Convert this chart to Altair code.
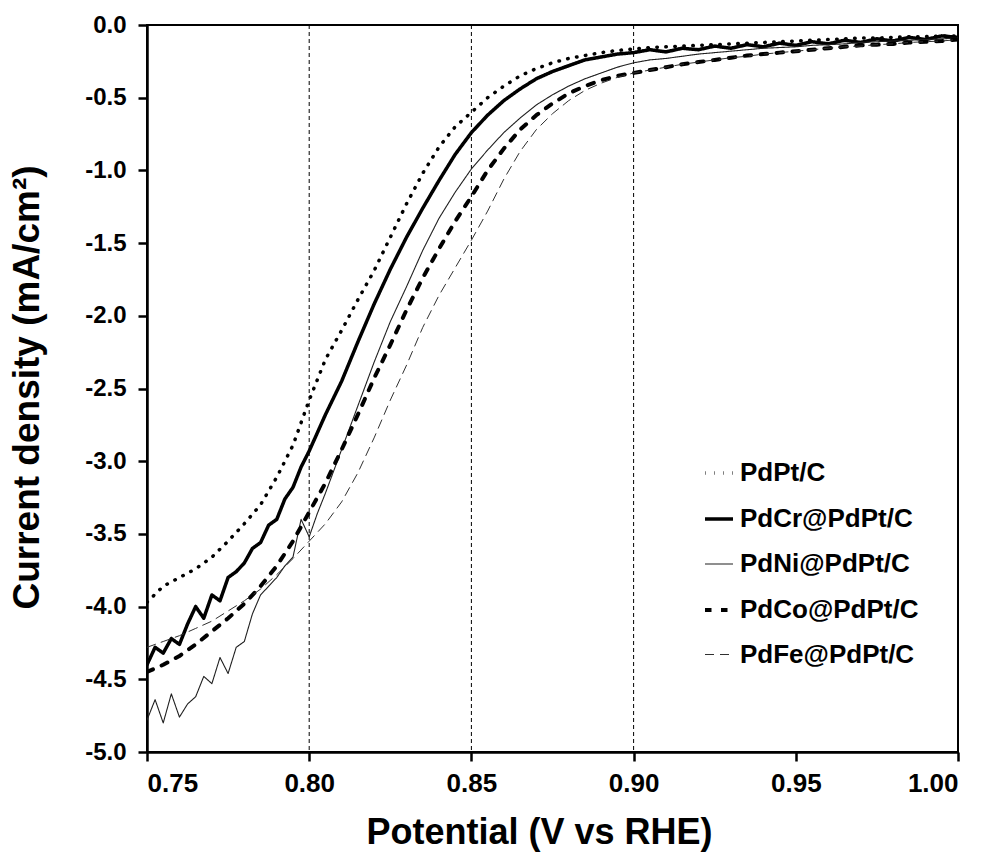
import altair as alt
import pandas as pd

# Linear sweep voltammetry (ORR polarization curves) for five catalysts
series_names = ["PdPt/C", "PdCr@PdPt/C", "PdNi@PdPt/C", "PdCo@PdPt/C", "PdFe@PdPt/C"]

# potential grid, V vs RHE (5 mV steps)
pot_grid = [0.750, 0.755, 0.760, 0.765, 0.770, 0.775, 0.780, 0.785, 0.790, 0.795,
            0.800, 0.805, 0.810, 0.815, 0.820, 0.825, 0.830, 0.835, 0.840, 0.845,
            0.850, 0.855, 0.860, 0.865, 0.870, 0.875, 0.880, 0.885, 0.890, 0.895,
            0.900, 0.905, 0.910, 0.915, 0.920, 0.925, 0.930, 0.935, 0.940, 0.945,
            0.950, 0.955, 0.960, 0.965, 0.970, 0.975, 0.980, 0.985, 0.990, 0.995, 1.000]

# noisier low-potential sections recorded at 2.5 mV steps
pdcr_low_pot = [0.7500, 0.7525, 0.7550, 0.7575, 0.7600, 0.7625, 0.7650, 0.7675, 0.7700, 0.7725,
                0.7750, 0.7775, 0.7800, 0.7825, 0.7850, 0.7875, 0.7900, 0.7925, 0.7950, 0.7975,
                0.8000]
pdni_low_pot = [0.7500, 0.7525, 0.7550, 0.7575, 0.7600, 0.7625, 0.7650, 0.7675, 0.7700, 0.7725,
                0.7750, 0.7775, 0.7800, 0.7825, 0.7850, 0.7875, 0.7900, 0.7925, 0.7950, 0.7975,
                0.8000, 0.8025, 0.8050]

# current density, mA/cm2
pdpt_j = [-3.97, -3.86, -3.80, -3.74, -3.66, -3.55, -3.43, -3.30, -3.11, -2.89,
          -2.58, -2.30, -2.10, -1.89, -1.69, -1.46, -1.23, -1.02, -0.84, -0.70,
          -0.60, -0.50, -0.42, -0.35, -0.30, -0.26, -0.23, -0.21, -0.19, -0.175,
          -0.165, -0.155, -0.15, -0.145, -0.14, -0.135, -0.13, -0.125, -0.12, -0.115,
          -0.11, -0.105, -0.10, -0.095, -0.09, -0.09, -0.085, -0.08, -0.08, -0.075, -0.075]

pdcr_j = [-4.40, -4.28, -4.32, -4.22, -4.26, -4.12, -4.00, -4.08, -3.92, -3.96,
          -3.80, -3.76, -3.70, -3.60, -3.56, -3.44, -3.40, -3.26, -3.18, -3.04,
          -2.93,
          -2.68, -2.45, -2.18, -1.92, -1.68, -1.46, -1.26, -1.07, -0.89, -0.74,
          -0.62, -0.52, -0.44, -0.37, -0.32, -0.28, -0.24, -0.22, -0.20, -0.19,
          -0.17, -0.185, -0.16, -0.17, -0.145, -0.16, -0.135, -0.15, -0.125, -0.14,
          -0.115, -0.13, -0.105, -0.12, -0.095, -0.11, -0.085, -0.10, -0.075, -0.085]

pdni_j = [-4.78, -4.64, -4.80, -4.60, -4.76, -4.67, -4.62, -4.48, -4.53, -4.35,
          -4.46, -4.28, -4.24, -4.05, -3.92, -3.86, -3.80, -3.72, -3.66, -3.40,
          -3.52, -3.36, -3.22,
          -2.92, -2.62, -2.32, -2.04, -1.80, -1.55, -1.33, -1.15, -0.99, -0.86,
          -0.74, -0.64, -0.55, -0.48, -0.42, -0.37, -0.33, -0.29, -0.26,
          -0.24, -0.23, -0.215, -0.20, -0.19, -0.18, -0.17, -0.16, -0.155, -0.15,
          -0.14, -0.135, -0.13, -0.12, -0.115, -0.11, -0.105, -0.10, -0.095, -0.09]

pdco_j = [-4.45, -4.40, -4.34, -4.26, -4.17, -4.08, -3.98, -3.86, -3.72, -3.55,
          -3.35, -3.15, -2.92, -2.68, -2.43, -2.20, -1.96, -1.74, -1.54, -1.35,
          -1.18, -1.00, -0.85, -0.72, -0.62, -0.54, -0.47, -0.42, -0.38, -0.35,
          -0.33, -0.31, -0.29, -0.27, -0.255, -0.24, -0.225, -0.21, -0.20, -0.19,
          -0.18, -0.17, -0.16, -0.15, -0.14, -0.135, -0.13, -0.12, -0.115, -0.11, -0.10]

pdfe_j = [-4.28, -4.24, -4.20, -4.15, -4.10, -4.03, -3.96, -3.88, -3.78, -3.67,
          -3.55, -3.43, -3.28, -3.08, -2.84, -2.58, -2.34, -2.08, -1.86, -1.67,
          -1.48, -1.28, -1.06, -0.87, -0.72, -0.61, -0.52, -0.45, -0.40, -0.36,
          -0.33, -0.31, -0.29, -0.27, -0.255, -0.24, -0.225, -0.215, -0.20, -0.19,
          -0.18, -0.17, -0.16, -0.15, -0.145, -0.135, -0.13, -0.12, -0.115, -0.11, -0.10]

# guide lines at selected potentials
guide_pots = [0.80, 0.85, 0.90]

x_ticks = [0.75, 0.80, 0.85, 0.90, 0.95, 1.00]
y_ticks = [-5.0, -4.5, -4.0, -3.5, -3.0, -2.5, -2.0, -1.5, -1.0, -0.5, 0.0]

# line styles per catalyst
dash_styles = [[0.5, 8.5], [1, 0], [1, 0], [6.5, 9.5], [9, 6]]
width_styles = [3.5, 3.5, 1.1, 4.0, 1.0]
color_styles = ["#000000", "#000000", "#202020", "#000000", "#303030"]

curves = [
    (series_names[0], pot_grid, pdpt_j),
    (series_names[1], pdcr_low_pot + pot_grid[11:], pdcr_j),
    (series_names[2], pdni_low_pot + pot_grid[12:], pdni_j),
    (series_names[3], pot_grid, pdco_j),
    (series_names[4], pot_grid, pdfe_j),
]
rows = []
for name, xs, ys in curves:
    for i, (p, j) in enumerate(zip(xs, ys)):
        rows.append({"series": name, "potential": p, "current": j, "idx": i})
df = pd.DataFrame(rows)

FONT = "Liberation Sans"

x_enc = alt.X("potential:Q",
              scale=alt.Scale(domain=[0.75, 1.0], nice=False, zero=False),
              axis=alt.Axis(values=x_ticks,
                            labelExpr="format(datum.value, '.2f')",
                            title="Potential (V vs RHE)",
                            titleX=392, titleY=80, titleBaseline="middle",
                            titleFontSize=36, labelFontSize=26,
                            labelPadding=9))
y_enc = alt.Y("current:Q",
              scale=alt.Scale(domain=[-5.0, 0.0], nice=False, zero=False),
              axis=alt.Axis(values=y_ticks,
                            labelExpr="(datum.value < 0 ? '-' : '') + format(abs(datum.value), '.1f')",
                            title="Current density (mA/cm²)",
                            titleX=-120, titleY=362, titleBaseline="middle",
                            titleAngle=-90,
                            titleFontSize=37, labelFontSize=24,
                            labelPadding=12))

legend = alt.Legend(title=None)

lines = alt.Chart(df).mark_line(strokeCap="round", strokeJoin="round", clip=True).encode(
    x=x_enc,
    y=y_enc,
    order="idx:Q",
    stroke=alt.Stroke("series:N", scale=alt.Scale(domain=series_names, range=color_styles), legend=legend),
    strokeDash=alt.StrokeDash("series:N", scale=alt.Scale(domain=series_names, range=dash_styles), legend=legend),
    strokeWidth=alt.StrokeWidth("series:N",
                                scale=alt.Scale(type="ordinal", domain=series_names, range=width_styles),
                                legend=legend),
)

guides = alt.Chart(pd.DataFrame({"potential": guide_pots})).mark_rule(
    color="black", strokeWidth=1, strokeDash=[4, 3]
).encode(x="potential:Q")

chart = alt.layer(guides, lines).properties(
    width=811,
    height=727,
    autosize=alt.AutoSizeParams(type="none"),
    padding={"left": 147, "top": 25, "right": 26, "bottom": 102},
    background="white",
).configure_view(
    stroke="black", strokeWidth=2
).configure_axis(
    grid=False,
    labelFont=FONT, labelFontWeight="bold", labelColor="black",
    titleFont=FONT, titleFontWeight="bold", titleColor="black",
    domainColor="black", domainWidth=2.5,
    tickColor="black", tickWidth=2.5, tickSize=9,
).configure_legend(
    orient="none", legendX=556, legendY=432,
    padding=0, symbolType="stroke", symbolSize=784,
    labelFont=FONT, labelFontWeight="bold", labelFontSize=26, labelColor="black",
    labelOffset=5, rowPadding=17, labelLimit=400, symbolStrokeColor="black",
)

chart.save("out.html", embed_options={"renderer": "svg", "actions": False})
